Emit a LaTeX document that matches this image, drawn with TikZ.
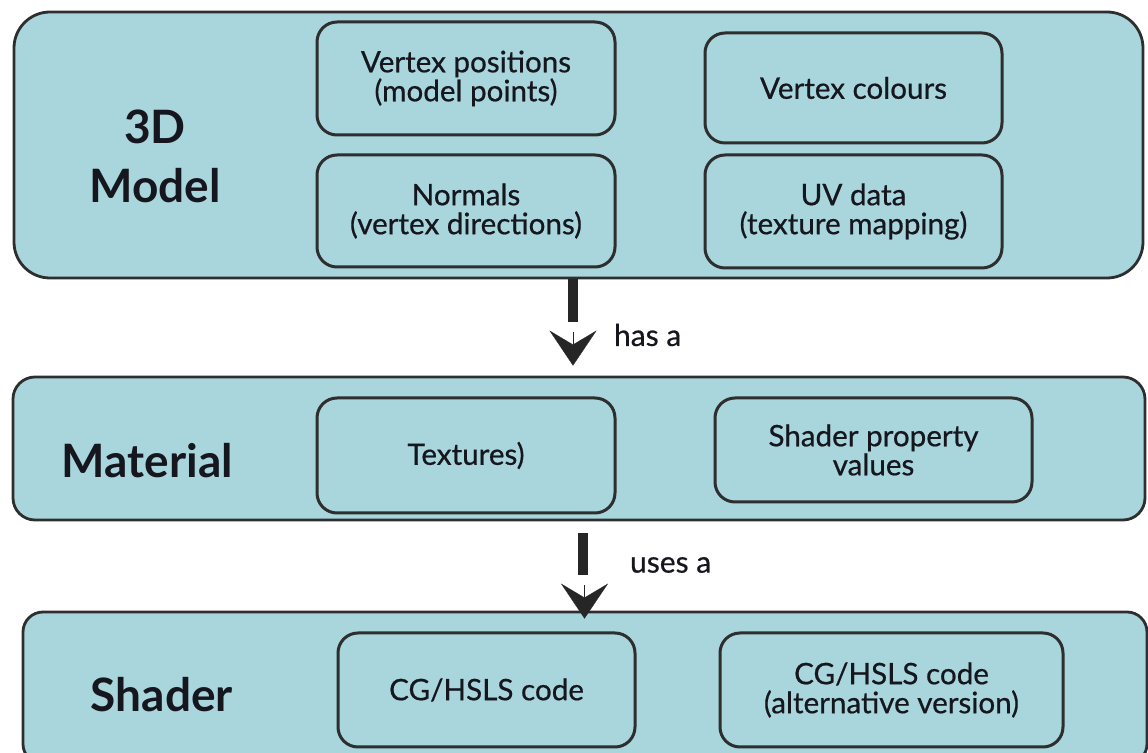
\documentclass[tikz,border=0pt]{standalone}
\usepackage{fontspec}
\setmainfont{Lato}
\newfontfamily\partfont{Lato}[FakeBold=0.6]
\usetikzlibrary{arrows.meta, positioning}
\definecolor{boxfill}{HTML}{A8D6DC}
\definecolor{boxline}{HTML}{2E2E2E}
\definecolor{ink}{HTML}{16161E}

\tikzset{
  layer/.style={draw=boxline, fill=boxfill, line width=1.4pt, rounded corners=11pt},
  part/.style={draw=boxline, fill=boxfill, line width=1.5pt, rounded corners=10pt, align=center,
    text=ink, font=\partfont\fontsize{14.8}{14.5}\selectfont, inner sep=0pt},
  title/.style={text=ink, font=\fontsize{23}{29.5}\selectfont\bfseries, align=center},
  relation/.style={text=ink, font=\partfont\fontsize{15}{15}\selectfont, anchor=west},
  shaft/.style={draw=black!85, line width=5pt},
  head/.style={draw=black!85, line width=0.1pt, -{Stealth[length=17.5pt, width=23.5pt, inset=7pt]}},
}

\begin{document}
\begin{tikzpicture}[x=0.5pt, y=-0.5pt]
\useasboundingbox (0,0) rectangle (1148,753);
% layers
\node (model) [layer, minimum width=564.5pt, minimum height=133pt, rounded corners=18pt] at (578.5,145) {};
\node (material) [layer, minimum width=566pt, minimum height=71.5pt] at (579,448.5) {};
\node (shader) [layer, minimum width=562pt, minimum height=76pt, rounded corners=10pt] at (585,688) {};

% 3D model parts
\node (vpos) [part, minimum width=149pt, minimum height=56.5pt] at (466,78.5) {Vertex positions\\(model points)};
\node (vcol) [part, minimum width=148.5pt, minimum height=55pt] at (853.5,88) {Vertex colours};
\node (norm) [part, minimum width=149pt, minimum height=56pt] at (466,211) {Normals\\(vertex directions)};
\node (uv) [part, minimum width=148.5pt, minimum height=56.5pt] at (853.5,211.5) {UV data\\(texture mapping)};

% material parts
\node (tex) [part, minimum width=149pt, minimum height=57.5pt] at (466,455.5) {Textures)};
\node (prop) [part, minimum width=158.5pt, minimum height=52pt] at (873.5,450) {Shader property\\values};

% shader parts
\node (code) [part, minimum width=148.5pt, minimum height=57pt] at (486.5,690) {CG/HSLS code};
\node (alt) [part, minimum width=171.5pt, minimum height=57pt] at (891.5,690) {CG/HSLS code\\(alternative version)};

% titles
\node (t3d) [title] at (155,156) {3D\\Model};
\node (tmat) [title, anchor=base] at (147.5,478) {Material};
\node (tsh) [title, anchor=base] at (162,712) {Shader};

% relations
\coordinate (s1) at (573,322);
\coordinate (h1) at (573,332);
\draw [shaft] (model.south -| s1) -- (s1);
\draw [head, shorten >=5pt] (h1) -- (h1 |- material.north);
\node (has) [relation] at (607,335) {has a};

\coordinate (s2) at (583,575);
\coordinate (h2) at (584.5,585);
\draw [shaft, shorten <=6pt] (material.south -| s2) -- (s2);
\draw [head, shorten >=-4pt] (h2) -- (h2 |- shader.north);
\node (uses) [relation] at (623,565) {uses a};
\end{tikzpicture}
\end{document}
